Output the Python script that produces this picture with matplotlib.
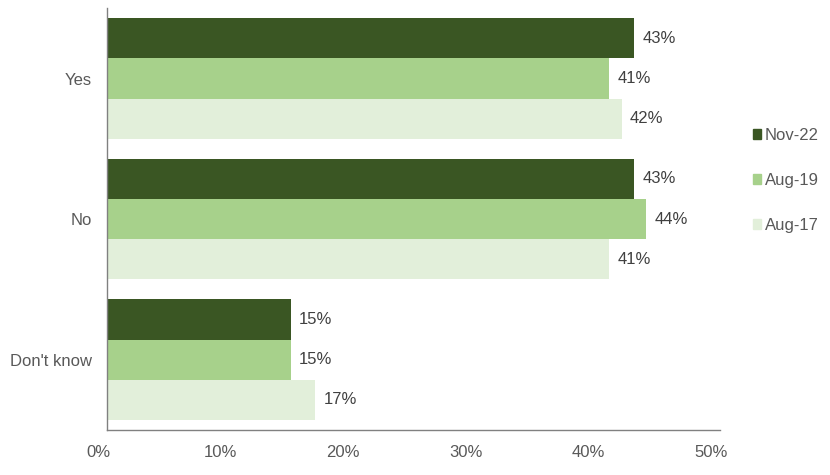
import matplotlib.pyplot as plt
import matplotlib.patches as mpatches
import matplotlib.transforms as mtransforms
from matplotlib.ticker import FuncFormatter
import numpy as np

categories = ['Yes', 'No', "Don't know"]
series_names = ['Nov-22', 'Aug-19', 'Aug-17']
nov22 = [43, 43, 15]
aug19 = [41, 44, 15]
aug17 = [42, 41, 17]
series_values = [nov22, aug19, aug17]
colors = ['#3A5623', '#A7D18B', '#E2EFDA']
text_grey = '#595959'

plt.rcParams['font.family'] = ['Liberation Sans', 'DejaVu Sans']

fig = plt.figure(figsize=(8.3, 4.75), dpi=100)
ax = fig.add_axes([0.129, 0.0947, 0.738, 0.888])

bar_h = 0.286
y = np.arange(len(categories))
for k, (name, vals) in enumerate(zip(series_names, series_values)):
    pos = y + (k - 1) * bar_h
    ax.barh(pos, vals, height=bar_h, color=colors[k], label=name)
    for p, v in zip(pos, vals):
        ax.annotate('{}%'.format(v), (v, p), xytext=(6, 0), textcoords='offset points',
                    va='center', ha='left', fontsize=12, color='#404040')

ax.set_ylim(len(categories) - 0.5, -0.5)
ax.set_xlim(0, 50)
ax.set_xticks(np.arange(0, 51, 10))
ax.xaxis.set_major_formatter(FuncFormatter(lambda v, _: '{:.0f}%'.format(v)))
ax.set_yticks(y)
ax.set_yticklabels(categories)
ax.tick_params(axis='both', length=0, labelsize=12, colors=text_grey)
ax.tick_params(axis='x', pad=11)
ax.tick_params(axis='y', pad=11)
shift = mtransforms.ScaledTranslation(-9 / 100, 0, fig.dpi_scale_trans)
for lab in ax.get_xticklabels():
    lab.set_transform(lab.get_transform() + shift)
for s in ['top', 'right']:
    ax.spines[s].set_visible(False)
for s in ['left', 'bottom']:
    ax.spines[s].set_color('#808080')
    ax.spines[s].set_linewidth(1.0)

handles = [mpatches.Patch(color=c, label=n) for c, n in zip(colors, series_names)]
leg = fig.legend(handles=handles, loc='center left', bbox_to_anchor=(0.897, 0.62),
                 frameon=False, fontsize=12, handlelength=0.5, handleheight=0.5,
                 handletextpad=0.2, labelspacing=1.8, borderpad=0)
for t in leg.get_texts():
    t.set_color(text_grey)

fig.savefig('out.png', dpi=100)
